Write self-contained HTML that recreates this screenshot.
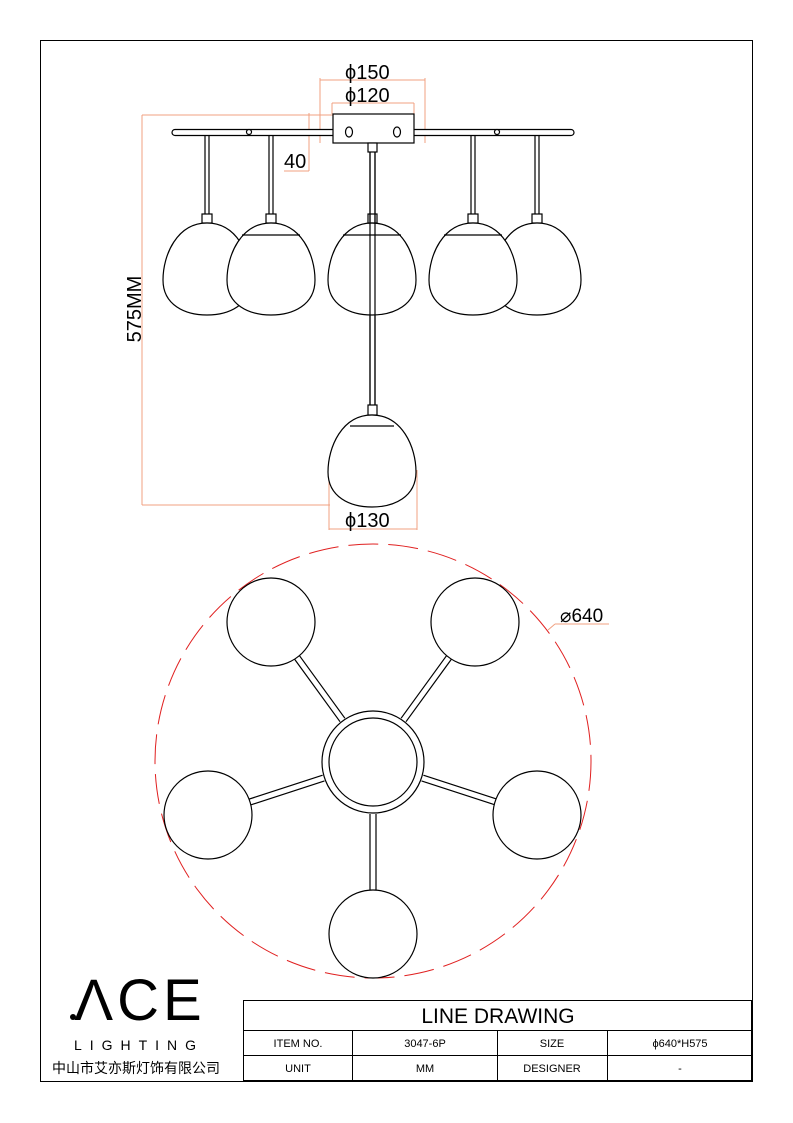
<!DOCTYPE html>
<html><head><meta charset="utf-8"><style>
body{margin:0;background:#fff}
svg{display:block}
text{font-family:"Liberation Sans","Noto Sans CJK SC",sans-serif}
</style></head><body>
<svg width="793" height="1123" viewBox="0 0 793 1123" xmlns="http://www.w3.org/2000/svg">
<defs>
<path id="g" d="M0,0 C30,0 44,32 44,57 C44,82 22,92 0,92 C-22,92 -44,82 -44,57 C-44,32 -30,0 0,0 Z" fill="#fff" stroke="#000" stroke-width="1.2"/>
</defs>
<rect x="40.5" y="40.5" width="712" height="1041" fill="none" stroke="#000" stroke-width="1"/>
<g stroke="#f0a080" stroke-width="1" fill="none">
<line x1="320" y1="80" x2="425" y2="80"/><line x1="320" y1="78" x2="320" y2="143"/><line x1="425" y1="78" x2="425" y2="143"/>
<line x1="332" y1="103" x2="414" y2="103"/><line x1="332" y1="103" x2="332" y2="114"/><line x1="414" y1="103" x2="414" y2="114"/>
<line x1="142" y1="115" x2="333" y2="115"/><line x1="142" y1="115" x2="142" y2="505"/><line x1="142" y1="505" x2="330" y2="505"/>
<line x1="309" y1="113" x2="309" y2="171"/><line x1="284" y1="171" x2="309" y2="171"/>
<line x1="329" y1="470" x2="329" y2="530"/><line x1="417" y1="470" x2="417" y2="530"/><line x1="329" y1="529" x2="417" y2="529"/>
</g>
<g font-size="20" fill="#000">
<text x="345" y="79">ϕ150</text><text x="345" y="102">ϕ120</text>
<text x="284" y="168">40</text>
<text x="345" y="527">ϕ130</text>
<text transform="translate(141,309) rotate(-90)" text-anchor="middle">575MM</text>
</g>
<g stroke="#000" stroke-width="1.2" fill="#fff">
<rect x="172" y="129.5" width="402" height="6" rx="3"/>
<rect x="333" y="114" width="81" height="29"/>
<circle cx="249" cy="132" r="2.5"/><circle cx="497" cy="132" r="2.5"/>
<ellipse cx="349" cy="132" rx="3.5" ry="5"/><ellipse cx="397" cy="132" rx="3.5" ry="5"/>
<rect x="368" y="143" width="9" height="9"/>
<line x1="370" y1="152" x2="370" y2="405"/><line x1="375" y1="152" x2="375" y2="405"/>
<rect x="368" y="405" width="9" height="10"/>
</g>
<g stroke="#000" stroke-width="1.2" fill="#fff">
<g transform="translate(207,0)"><line x1="-2" y1="135" x2="-2" y2="214"/><line x1="2" y1="135" x2="2" y2="214"/><rect x="-5" y="214" width="10" height="9"/></g>
<g transform="translate(537,0)"><line x1="-2" y1="135" x2="-2" y2="214"/><line x1="2" y1="135" x2="2" y2="214"/><rect x="-5" y="214" width="10" height="9"/></g>
<use href="#g" x="207" y="223"/><use href="#g" x="537" y="223"/>
<g transform="translate(271,0)"><line x1="-2" y1="135" x2="-2" y2="214"/><line x1="2" y1="135" x2="2" y2="214"/><rect x="-5" y="214" width="10" height="9"/></g>
<g transform="translate(473,0)"><line x1="-2" y1="135" x2="-2" y2="214"/><line x1="2" y1="135" x2="2" y2="214"/><rect x="-5" y="214" width="10" height="9"/></g>
<use href="#g" x="271" y="223"/><use href="#g" x="473" y="223"/>
<use href="#g" x="372" y="223"/>
<line x1="370" y1="152" x2="370" y2="405"/><line x1="375" y1="152" x2="375" y2="405"/>
<rect x="368" y="214" width="9" height="9" fill="none"/>
<use href="#g" x="372" y="415"/>
<line x1="343" y1="235" x2="401" y2="235"/><line x1="242" y1="235" x2="300" y2="235"/><line x1="444" y1="235" x2="502" y2="235"/>
<line x1="350" y1="426" x2="394" y2="426"/>
</g>
<ellipse cx="373" cy="761" rx="218" ry="217" fill="none" stroke="#e02020" stroke-width="1" stroke-dasharray="30,10"/>
<g stroke="#000" stroke-width="1.2" fill="none">
<g transform="translate(373,762)">
<line x1="-3" y1="52" x2="-3" y2="132"/><line x1="3" y1="52" x2="3" y2="132"/>
<g transform="rotate(72)"><line x1="-3" y1="52" x2="-3" y2="132"/><line x1="3" y1="52" x2="3" y2="132"/></g>
<g transform="rotate(-72)"><line x1="-3" y1="52" x2="-3" y2="132"/><line x1="3" y1="52" x2="3" y2="132"/></g>
<g transform="rotate(144)"><line x1="-3" y1="52" x2="-3" y2="132"/><line x1="3" y1="52" x2="3" y2="132"/></g>
<g transform="rotate(-144)"><line x1="-3" y1="52" x2="-3" y2="132"/><line x1="3" y1="52" x2="3" y2="132"/></g>
<circle r="51" fill="#fff"/><circle r="44"/>
</g>
<circle cx="271" cy="622" r="44" fill="#fff"/><circle cx="475" cy="622" r="44" fill="#fff"/>
<circle cx="208" cy="815" r="44" fill="#fff"/><circle cx="537" cy="815" r="44" fill="#fff"/>
<circle cx="373" cy="934" r="44" fill="#fff"/>
</g>
<line x1="548" y1="630" x2="555" y2="624" stroke="#f0a080"/>
<line x1="555" y1="624" x2="609" y2="624" stroke="#f0a080"/>
<text x="560" y="622" font-size="19">⌀640</text>
<text x="140" y="1020" font-family="Liberation Serif,serif" font-size="58" text-anchor="middle" letter-spacing="4">ΛCE</text>
<circle cx="73" cy="1017" r="3" fill="#000"/>
<text x="139" y="1050" font-family="Liberation Serif,serif" font-size="14" text-anchor="middle" letter-spacing="8">LIGHTING</text>
<text x="136" y="1073" font-size="14" text-anchor="middle">中山市艾亦斯灯饰有限公司</text>
<g stroke="#000" stroke-width="1" fill="none">
<rect x="243.5" y="1000.5" width="508" height="80"/>
<line x1="243" y1="1030.5" x2="752" y2="1030.5"/>
<line x1="243" y1="1055.5" x2="752" y2="1055.5"/>
<line x1="352.5" y1="1030" x2="352.5" y2="1081"/>
<line x1="497.5" y1="1030" x2="497.5" y2="1081"/>
<line x1="607.5" y1="1030" x2="607.5" y2="1081"/>
</g>
<text x="498" y="1023" font-size="21" text-anchor="middle">LINE DRAWING</text>
<g font-size="11" text-anchor="middle">
<text x="298" y="1047">ITEM NO.</text><text x="425" y="1047">3047-6P</text><text x="552" y="1047">SIZE</text><text x="680" y="1047">ϕ640*H575</text>
<text x="298" y="1072">UNIT</text><text x="425" y="1072">MM</text><text x="552" y="1072">DESIGNER</text><text x="680" y="1072">-</text>
</g>
</svg>
</body></html>
